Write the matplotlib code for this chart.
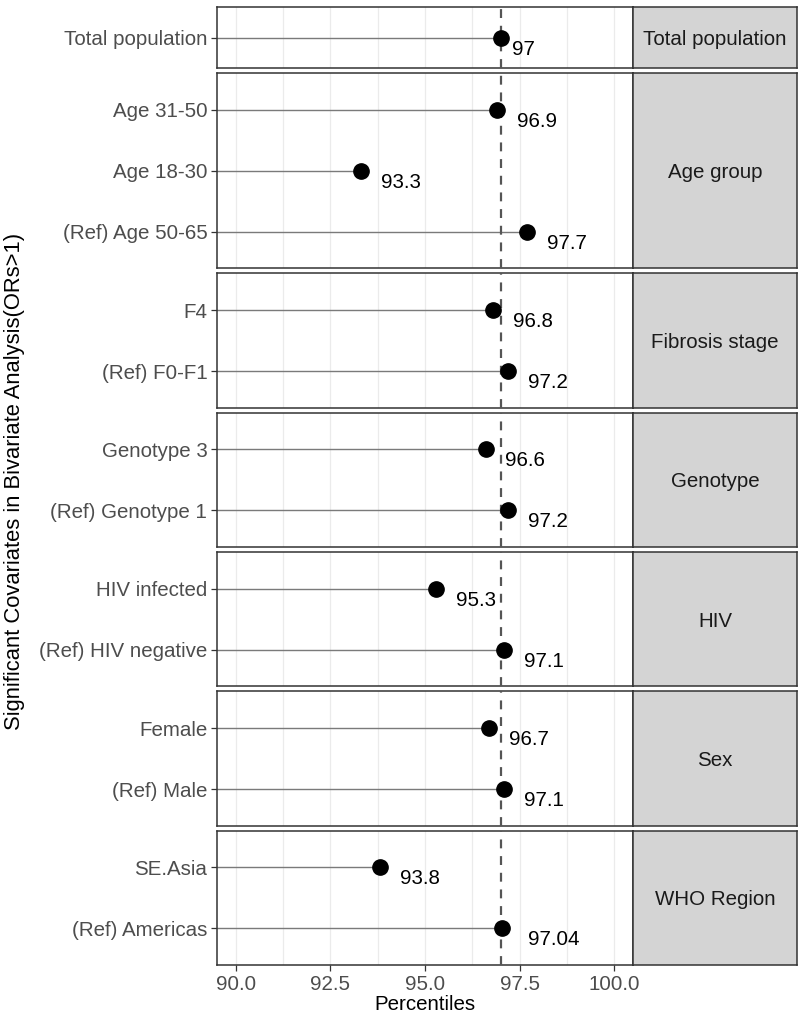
import matplotlib
matplotlib.use('Agg')
import matplotlib.pyplot as plt
from matplotlib.ticker import MultipleLocator

plt.rcParams['font.family'] = ['Liberation Sans', 'DejaVu Sans']

# facet groups, top to bottom
groups = ['Total population', 'Age group', 'Fibrosis stage', 'Genotype',
          'HIV', 'Sex', 'WHO Region']
covariates = [
    ['Total population'],
    ['Age 31-50', 'Age 18-30', '(Ref) Age 50-65'],
    ['F4', '(Ref) F0-F1'],
    ['Genotype 3', '(Ref) Genotype 1'],
    ['HIV infected', '(Ref) HIV negative'],
    ['Female', '(Ref) Male'],
    ['SE.Asia', '(Ref) Americas'],
]
percentiles = [
    [97.0],
    [96.9, 93.3, 97.7],
    [96.8, 97.2],
    [96.6, 97.2],
    [95.3, 97.1],
    [96.7, 97.1],
    [93.8, 97.04],
]
value_text = [
    ['97'],
    ['96.9', '93.3', '97.7'],
    ['96.8', '97.2'],
    ['96.6', '97.2'],
    ['95.3', '97.1'],
    ['96.7', '97.1'],
    ['93.8', '97.04'],
]
ref_value = percentiles[0][0]

W, H = 800, 1015
fig = plt.figure(figsize=(W / 100, H / 100), dpi=100)

left, right, strip_r = 217, 633, 797
top, bottom, gap = 7, 965, 5
pad = 0.6
spans = [(len(c) - 1) + 2 * pad if len(c) > 1 else 1.0 for c in covariates]
px_per_unit = (bottom - top - gap * (len(groups) - 1)) / sum(spans)

fs = 14.8
edge = '#333333'
y = top
all_texts = []
for gi, (grp, covs, vals, vt) in enumerate(zip(groups, covariates, percentiles, value_text)):
    h = spans[gi] * px_per_unit
    rect = [left / W, 1 - (y + h) / H, (right - left) / W, h / H]
    ax = fig.add_axes(rect)
    sax = fig.add_axes([right / W, 1 - (y + h) / H, (strip_r - right) / W, h / H])
    y += h + gap

    idx = list(range(len(covs)))
    ax.hlines(idx, 0, vals, color='#7a7a7a', lw=1.0, zorder=2)
    ax.plot(vals, idx, 'o', color='black', ms=11, zorder=4)
    ax.axvline(ref_value, color='#555555', lw=1.6, ls=(0, (4, 3.5)), zorder=3)
    for i, (v, t) in enumerate(zip(vals, vt)):
        txt = ax.annotate(t, (v, i), xytext=(0, -2), textcoords='offset pixels',
                          ha='left', va='top', fontsize=fs, color='black', zorder=5)
        all_texts.append(txt)

    ax.set_xlim(89.5, 100.5)
    if len(covs) > 1:
        ax.set_ylim(len(covs) - 1 + pad, -pad)
    else:
        ax.set_ylim(0.5, -0.5)
    ax.xaxis.set_major_locator(MultipleLocator(2.5))
    ax.xaxis.set_minor_locator(MultipleLocator(1.25))
    ax.grid(True, which='both', axis='x', color='#ebebeb', lw=0.9, zorder=0)
    ax.set_axisbelow(True)
    ax.set_yticks(idx)
    ax.set_yticklabels(covs, fontsize=fs, color='#4d4d4d')
    ax.tick_params(axis='y', length=4, width=0.9, color=edge, pad=3)
    ax.tick_params(axis='x', which='minor', length=0)
    if gi == len(groups) - 1:
        ax.set_xticklabels([f'{t:.1f}' for t in ax.get_xticks()],
                           fontsize=fs, color='#4d4d4d')
        ax.tick_params(axis='x', which='major', length=4, width=0.9, color=edge, pad=3)
    else:
        ax.tick_params(axis='x', which='major', length=0, labelbottom=False)
    for s in ax.spines.values():
        s.set_color(edge)
        s.set_linewidth(1.1)

    sax.set_facecolor('#d4d4d4')
    sax.set_xticks([])
    sax.set_yticks([])
    for s in sax.spines.values():
        s.set_color(edge)
        s.set_linewidth(1.1)
    sax.text(0.5, 0.5, grp, transform=sax.transAxes, ha='center', va='center_baseline',
             fontsize=fs, color='#1a1a1a')

# hjust = -0.5 : shift each value label by half its own width
fig.canvas.draw()
r = fig.canvas.get_renderer()
for txt in all_texts:
    w = txt.get_window_extent(r).width
    txt.set_position((w * 0.5, -2))

fig.text(425 / W, 1 - 1004 / H, 'Percentiles', ha='center', va='center', fontsize=fs)
fig.text(15 / W, 1 - 481 / H,
         'Significant Covariates in Bivariate Analysis(ORs>1)',
         ha='center', va='center', rotation=90, fontsize=15.8)

fig.savefig('out.png', dpi=100)
